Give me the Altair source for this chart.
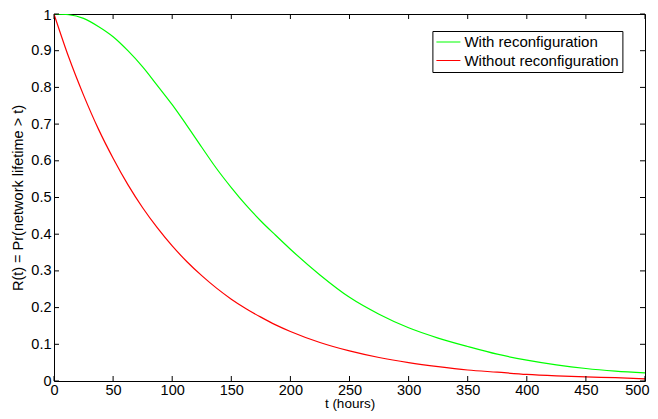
import altair as alt
import pandas as pd

# Data
t = [0, 12.5, 25, 37.5, 50, 62.5, 75, 87.5, 100, 112.5, 125, 137.5, 150, 162.5,
     175, 187.5, 200, 225, 250, 275, 300, 325, 350, 375, 400, 425, 450, 475, 500]
with_reconf = [1.000, 0.998, 0.988, 0.966, 0.938, 0.900, 0.856, 0.805, 0.753,
               0.696, 0.637, 0.579, 0.527, 0.479, 0.436, 0.397, 0.359, 0.289,
               0.228, 0.182, 0.145, 0.117, 0.094, 0.073, 0.057, 0.044, 0.034,
               0.027, 0.022]
without_reconf = [1.000, 0.882, 0.779, 0.687, 0.607, 0.535, 0.472, 0.417, 0.368,
                  0.325, 0.287, 0.253, 0.223, 0.197, 0.174, 0.153, 0.135, 0.105,
                  0.082, 0.064, 0.050, 0.039, 0.030, 0.024, 0.018, 0.014, 0.011,
                  0.009, 0.006]
series_names = ["With reconfiguration", "Without reconfiguration"]
series_colors = ["#00ff00", "#ff0000"]
x_ticks = [0, 50, 100, 150, 200, 250, 300, 350, 400, 450, 500]
y_ticks = [0, 0.1, 0.2, 0.3, 0.4, 0.5, 0.6, 0.7, 0.8, 0.9, 1]

W, H = 591, 367
TICK = 5
FONT = "Liberation Sans"

df = pd.concat([
    pd.DataFrame({"t": t, "R": with_reconf, "series": series_names[0]}),
    pd.DataFrame({"t": t, "R": without_reconf, "series": series_names[1]}),
])
xt = pd.DataFrame({"t": x_ticks})
yt = pd.DataFrame({"R": y_ticks})

xscale = alt.Scale(domain=[0, 500], nice=False, zero=False)
yscale = alt.Scale(domain=[0, 1], nice=False)
x_axis = alt.Axis(values=x_ticks, title="t (hours)", labelPadding=2.5,
                  labelFlush=False,
                  labelAlign={"condition": {"test": "datum.value >= 500", "value": "right"},
                              "value": "center"},
                  labelOffset={"condition": {"test": "datum.value >= 500", "value": 4},
                               "value": 0},
                  titleX=W / 2, titleY=22.5,
                  titleBaseline="middle", titleFontSize=13.5)
y_axis = alt.Axis(values=y_ticks, format="~g",
                  title="R(t) = Pr(network lifetime > t)", labelPadding=3,
                  labelFlush=False,
                  labelOffset={"condition": {"test": "datum.value >= 1", "value": 1.5},
                               "value": 0},
                  titleX=-35.5, titleY=H / 2, titleAngle=270,
                  titleBaseline="middle")

lines = alt.Chart(df).mark_line(strokeWidth=1.2, interpolate="monotone", clip=True).encode(
    x=alt.X("t:Q", scale=xscale, axis=x_axis),
    y=alt.Y("R:Q", scale=yscale, axis=y_axis),
    color=alt.Color("series:N",
                    scale=alt.Scale(domain=series_names, range=series_colors),
                    legend=alt.Legend(orient="none", legendX=378.4, legendY=17,
                                      title=None, strokeColor="black",
                                      fillColor="white", padding=3,
                                      symbolType="stroke", symbolSize=576,
                                      symbolStrokeWidth=1.2, labelFont=FONT,
                                      labelFontSize=15, labelColor="black",
                                      labelOffset=3, clipHeight=16,
                                      rowPadding=2.5)),
)

xb = alt.Chart(xt).mark_rule(color="black", strokeWidth=1).encode(
    x=alt.X("t:Q", scale=xscale, axis=x_axis), y=alt.value(H), y2=alt.value(H - TICK))
xtop = alt.Chart(xt).mark_rule(color="black", strokeWidth=1).encode(
    x=alt.X("t:Q", scale=xscale, axis=x_axis), y=alt.value(0), y2=alt.value(TICK))
yl = alt.Chart(yt).mark_rule(color="black", strokeWidth=1).encode(
    y=alt.Y("R:Q", scale=yscale, axis=y_axis), x=alt.value(0), x2=alt.value(TICK))
yr = alt.Chart(yt).mark_rule(color="black", strokeWidth=1).encode(
    y=alt.Y("R:Q", scale=yscale, axis=y_axis), x=alt.value(W), x2=alt.value(W - TICK))

chart = alt.layer(lines, xb, xtop, yl, yr).properties(
    width=W, height=H, autosize="none",
    padding={"left": 46, "top": 6, "right": 5, "bottom": 30},
).configure_view(stroke="black", strokeWidth=1).configure_axis(
    domain=False, ticks=False, grid=False,
    labelFont=FONT, labelFontSize=14.5, labelColor="black",
    titleFont=FONT, titleFontSize=14.5, titleFontWeight="normal", titleColor="black",
)

chart.save("out.html", embed_options={"renderer": "svg", "actions": False})
